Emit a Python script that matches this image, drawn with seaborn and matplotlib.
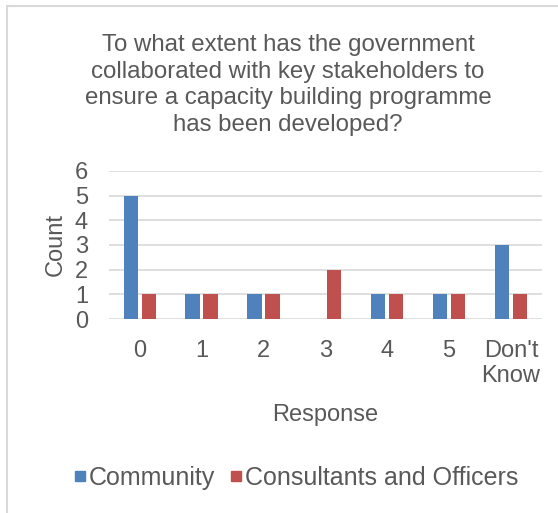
import matplotlib
matplotlib.use("Agg")
import matplotlib.pyplot as plt
from matplotlib.patches import Rectangle
from matplotlib.lines import Line2D
import seaborn as sns
import pandas as pd

# Survey responses
responses = ["0", "1", "2", "3", "4", "5", "Don't\nKnow"]
community = [5, 1, 1, 0, 1, 1, 3]
consultants = [1, 1, 1, 2, 1, 1, 1]
groups = ["Community", "Consultants and Officers"]
colors = ["#4F81BD", "#C0504D"]
title = ("To what extent has the government\ncollaborated with key stakeholders to\n"
         "ensure a capacity building programme\nhas been developed?")

df = pd.DataFrame({
    "Response": responses * 2,
    "Count": community + consultants,
    "Group": [groups[0]] * len(responses) + [groups[1]] * len(responses),
})

sns.set_theme(style="white")
plt.rcParams["font.family"] = ["Liberation Sans", "DejaVu Sans"]
text_color = "#595959"
fs = 17

fig = plt.figure(figsize=(5.58, 5.13), dpi=100)
ax = fig.add_axes([0.195, 0.378, 0.776, 0.289])

sns.barplot(data=df, x="Response", y="Count", hue="Group", order=responses,
            hue_order=groups, palette=colors, width=0.58, gap=0.2,
            saturation=1, linewidth=0, ax=ax, legend=False)

ax.set_ylim(0, 6)
ax.set_yticks(range(0, 7))
ax.set_xlim(-0.5, len(responses) - 0.5)
ax.yaxis.grid(True, color="#D9D9D9", linewidth=1.2)
ax.set_axisbelow(True)
for s in ax.spines.values():
    s.set_visible(False)
ax.tick_params(axis="both", length=0, labelsize=fs, labelcolor=text_color)
ax.tick_params(axis="y", pad=15)
ax.tick_params(axis="x", pad=15)
for lbl in ax.get_xticklabels():
    lbl.set_linespacing(1.2)
ax.set_xlabel("Response", fontsize=fs, color=text_color, labelpad=12)
ax.set_ylabel("Count", fontsize=fs, color=text_color, labelpad=6)

fig.text(288 / 558, 1 - 85 / 513, title, ha="center", va="center",
         fontsize=17.3, color=text_color, linespacing=1.27)

handles = [Line2D([], [], marker="s", linestyle="", markersize=7,
                  markerfacecolor=c, markeredgecolor=c) for c in colors]
fig.legend(handles, groups, loc="center", bbox_to_anchor=(295 / 558, 1 - 478 / 513),
           ncol=2, frameon=False, fontsize=18, labelcolor=text_color,
           handletextpad=0.0, columnspacing=0.5, handlelength=0.7)

fig.patches.append(Rectangle((7 / 558, -0.05), 1.1, 1 - 6 / 513 + 0.05,
                             transform=fig.transFigure, fill=False,
                             edgecolor="#D9D9D9", linewidth=1.5))

fig.savefig("out.png", dpi=100, facecolor="white")
